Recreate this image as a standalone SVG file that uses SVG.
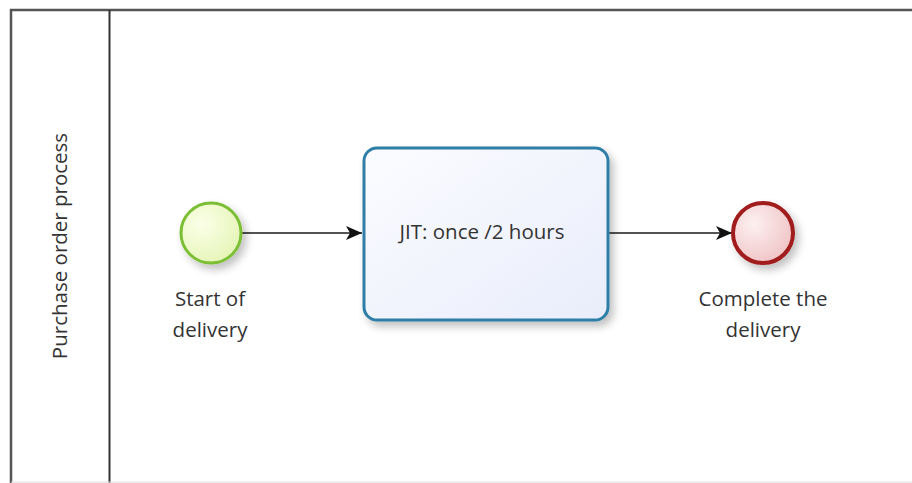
<svg xmlns="http://www.w3.org/2000/svg" width="912" height="483" viewBox="0 0 912 483">
<style>
.lbl{font-family:"Open Sans","Liberation Sans",sans-serif;font-size:20.5px;fill:#333;}
.conn{stroke:#1a1a1a;stroke-width:1.6;fill:none;}
</style>
<defs>
<marker id="arr" markerWidth="18" markerHeight="18" refX="17" refY="9" orient="auto" markerUnits="userSpaceOnUse">
<path d="M1,2 L17,9 L1,16 L5,9 Z" fill="#111"/>
</marker>
<radialGradient id="gStart" cx="35%" cy="35%" r="70%"><stop offset="0" stop-color="#fbffe8"/><stop offset="1" stop-color="#e6f5b8"/></radialGradient>
<radialGradient id="gEnd" cx="35%" cy="35%" r="70%"><stop offset="0" stop-color="#fdf0f0"/><stop offset="1" stop-color="#f0c4c6"/></radialGradient>
<linearGradient id="gTask" x1="0" y1="0" x2="1" y2="1"><stop offset="0" stop-color="#fbfcff"/><stop offset="1" stop-color="#e9edfb"/></linearGradient>
<filter id="sh" x="-20%" y="-20%" width="150%" height="150%"><feGaussianBlur in="SourceAlpha" stdDeviation="4"/><feOffset dx="4" dy="5"/><feComponentTransfer><feFuncA type="linear" slope="0.25"/></feComponentTransfer><feMerge><feMergeNode/><feMergeNode in="SourceGraphic"/></feMerge></filter>
</defs>
<rect width="912" height="483" fill="#fff"/>
<g id="pool">
<path d="M912,10 L11,10 L11,483" fill="none" stroke="#555" stroke-width="2.5"/>
<line x1="109.5" y1="10" x2="109.5" y2="483" stroke="#333" stroke-width="2"/>
<line x1="11" y1="482" x2="912" y2="482" stroke="#ddd" stroke-width="1"/>
<text class="lbl" transform="translate(67,246) rotate(-90)" text-anchor="middle">Purchase order process</text>
</g>
<g id="connectors">
<line class="conn" x1="241" y1="233" x2="362" y2="233" marker-end="url(#arr)"/>
<line class="conn" x1="609" y1="233" x2="732" y2="233" marker-end="url(#arr)"/>
</g>
<g id="start">
<circle cx="211" cy="233" r="30" fill="url(#gStart)" stroke="#7cbf35" stroke-width="3" filter="url(#sh)"/>
<text class="lbl" x="210" y="306" text-anchor="middle">Start of</text>
<text class="lbl" x="210" y="337" text-anchor="middle">delivery</text>
</g>
<g id="task">
<rect x="364" y="148" width="244" height="172" rx="13" fill="url(#gTask)" stroke="#2e7ea8" stroke-width="3" filter="url(#sh)"/>
<text class="lbl" x="482" y="239" text-anchor="middle">JIT: once /2 hours</text>
</g>
<g id="end">
<circle cx="763" cy="233" r="30" fill="url(#gEnd)" stroke="#a11a1a" stroke-width="4" filter="url(#sh)"/>
<text class="lbl" x="763" y="306" text-anchor="middle">Complete the</text>
<text class="lbl" x="763" y="337" text-anchor="middle">delivery</text>
</g>
</svg>
